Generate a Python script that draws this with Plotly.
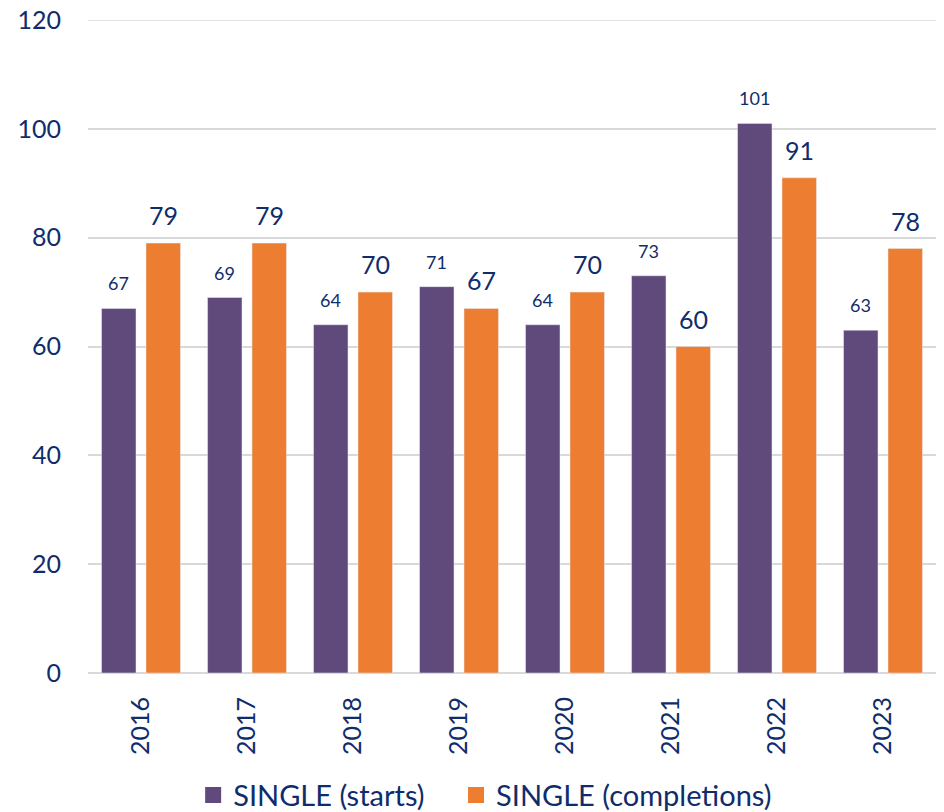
import plotly.graph_objects as go

years = ["2016", "2017", "2018", "2019", "2020", "2021", "2022", "2023"]
starts = [67, 69, 64, 71, 64, 73, 101, 63]
completions = [79, 79, 70, 67, 70, 60, 91, 78]
y_ticks = [0, 20, 40, 60, 80, 100, 120]

PURPLE = "#604A7B"
ORANGE = "#ED7D31"
NAVY = "#0F2D6B"
GRID = "#D9D9D9"
FONT = "Lato, Open Sans, sans-serif"

idx = list(range(len(years)))
OFF = 0.21

fig = go.Figure()
fig.add_trace(go.Bar(x=idx, y=starts, name="SINGLE (starts)", marker=dict(color=PURPLE),
                     showlegend=False, legendgroup="s"))
fig.add_trace(go.Bar(x=idx, y=completions, name="SINGLE (completions)", marker=dict(color=ORANGE),
                     showlegend=False, legendgroup="c"))
# legend proxies (square swatches), one legend box each
fig.add_trace(go.Scatter(x=[None], y=[None], mode="markers", name="SINGLE (starts)", legendgroup="s",
                         legend="legend", marker=dict(symbol="square", size=16, color=PURPLE)))
fig.add_trace(go.Scatter(x=[None], y=[None], mode="markers", name="SINGLE (completions)", legendgroup="c",
                         legend="legend2", marker=dict(symbol="square", size=16, color=ORANGE)))

annotations = []
for i, v in enumerate(starts):
    annotations.append(dict(x=i - OFF, y=v, xref="x", yref="y", text=str(v), showarrow=False,
                            yanchor="bottom", yshift=12, font=dict(size=18, color=NAVY, family=FONT)))
for i, v in enumerate(completions):
    annotations.append(dict(x=i + OFF, y=v, xref="x", yref="y", text=str(v), showarrow=False,
                            yanchor="bottom", yshift=11, font=dict(size=25, color=NAVY, family=FONT)))

# top gridline (at the upper edge of the axis range)
fig.add_shape(type="line", xref="paper", yref="y", x0=0, x1=1, y0=max(y_ticks), y1=max(y_ticks),
              line=dict(color=GRID, width=1.5), layer="below")

leg_common = dict(orientation="h", xanchor="left", y=-0.187, yanchor="middle",
                  font=dict(size=29, color=NAVY, family=FONT), itemwidth=30, itemsizing="trace",
                  bgcolor="rgba(0,0,0,0)")

# the page body adds an 8px offset, so the figure is 8px smaller in each direction
fig.update_layout(
    width=936, height=804,
    margin=dict(l=80, r=8, t=12, b=139, autoexpand=False),
    plot_bgcolor="white", paper_bgcolor="white",
    barmode="group", bargap=0.161, bargroupgap=0.225,
    font=dict(family=FONT, color=NAVY, size=24),
    annotations=annotations,
    showlegend=True,
    legend=dict(x=0.124, **leg_common),
    legend2=dict(x=0.434, **leg_common),
    xaxis=dict(tickmode="array", tickvals=idx, ticktext=years, tickangle=-90,
               range=[-0.5, len(years) - 0.5], showgrid=False, zeroline=False,
               showline=False, ticks="", ticklabelstandoff=18,
               tickfont=dict(size=25, color=NAVY, family=FONT)),
    yaxis=dict(range=[0, 120], tickvals=y_ticks, showgrid=True, gridcolor=GRID, gridwidth=1.5,
               zeroline=True, zerolinecolor=GRID, zerolinewidth=1.5, ticks="",
               ticklabeloverflow="allow",
               ticklabelstandoff=26, tickfont=dict(size=25, color=NAVY, family=FONT)),
)

fig.write_html("out.html")
